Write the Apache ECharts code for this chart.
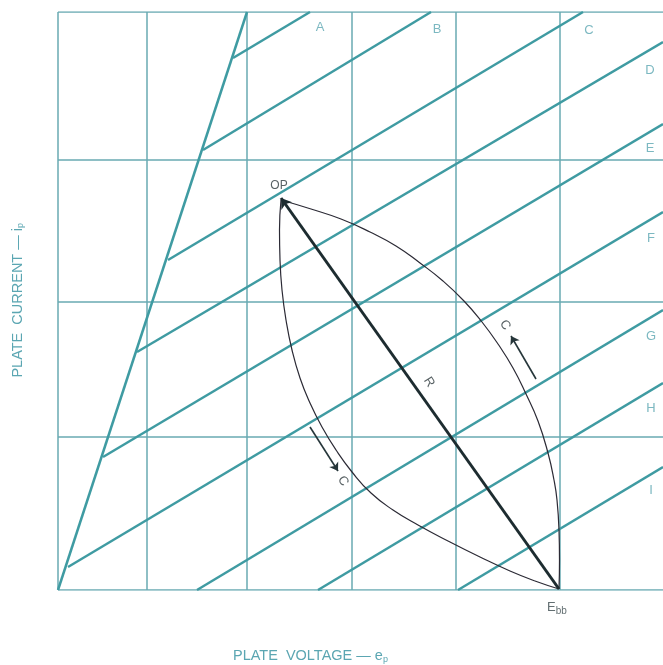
<!DOCTYPE html>
<html>
<head>
<meta charset="utf-8">
<script src="https://cdn.jsdelivr.net/npm/echarts@6/dist/echarts.min.js"></script>
<style>html,body{margin:0;padding:0;background:#fff;}#c{width:663px;height:665px;}</style>
</head>
<body>
<div id="c"></div>
<script>
// ---- data (arbitrary plate-voltage / plate-current units) ----
const xMax = 605;
const yMax = 578;
const vGrid = [0, 89, 189, 294, 398, 502];
const hGrid = [0, 153, 288, 430, 578];
const kneeLine = [[0, 0], [189, 578]];
const curveNames = ['A', 'B', 'C', 'D', 'E', 'F', 'G', 'H', 'I'];
const curveStart = [[175, 532], [145, 440], [110, 330], [79, 238], [45, 133], [10, 23], [139, 0], [260, 0], [400, 0]];
const curveEnd = [[252, 578], [373, 578], [525, 578], [605, 548], [605, 466], [605, 378], [605, 280], [605, 207], [605, 123]];
const curveLabelAt = [[262, 563], [379, 561], [531, 560], [592, 520], [592, 442], [593, 352], [593, 254], [593, 182], [593, 100]];
const OP = [223, 392];
const Ebb = [501, 1];
const leftArc = [[223, 390], [221.5, 360], [222, 330], [224, 300], [228, 270], [234, 240], [242, 212], [252, 187], [264, 163], [278, 140], [294, 118], [313, 97], [335, 80], [360, 65], [392, 48], [422, 33], [452, 19], [477, 9], [501, 1]];
const rightArc = [[223, 390], [253, 381], [283, 371], [312, 358], [338, 344], [362, 327], [385, 309], [406, 289], [424, 268], [440, 246], [455, 222], [468, 196], [480, 169], [490, 137], [496, 110], [499, 90], [501, 60], [501.5, 30], [501, 1]];
const arrowLeft = [[252, 163], [280, 119]];
const arrowRight = [[478, 211], [453, 254]];
const cLabelAt = [[285, 109], [447, 265]];
const rLabelAt = [371, 208];

// ---- styles ----
const teal = '#3f9ba2';
const gridTeal = '#69aab2';
const labelTeal = '#5ba6b2';
const dark = '#1d2c30';
const font = '"Liberation Sans", Arial, sans-serif';

const gridLines = [];
vGrid.forEach(x => gridLines.push({ coords: [[x, 0], [x, yMax]] }));
hGrid.forEach(y => gridLines.push({ coords: [[0, y], [xMax, y]] }));

const charLines = [{ coords: kneeLine }];
curveStart.forEach((s, i) => charLines.push({ coords: [s, curveEnd[i]] }));

const chart = echarts.init(document.getElementById('c'), null, { renderer: 'canvas' });
chart.setOption({
  animation: false,
  backgroundColor: '#ffffff',
  grid: { left: 58, top: 12, width: 605, height: 578, containLabel: false },
  xAxis: { type: 'value', min: 0, max: xMax, show: false },
  yAxis: { type: 'value', min: 0, max: yMax, show: false },
  graphic: [
    {
      type: 'text', left: 10, top: 223,
      rotation: Math.PI / 2,
      style: {
        text: '{a|PLATE  CURRENT — i}{s|p}',
        rich: {
          a: { fill: labelTeal, fontSize: 14.5, fontFamily: font, fontWeight: 'normal' },
          s: { fill: labelTeal, fontSize: 9, fontFamily: font, padding: [7, 0, 0, 0] }
        }
      }
    }
  ],
  title: {
    left: 233, top: 648,
    padding: 0,
    text: '{a|PLATE  VOLTAGE — e}{s|p}',
    textStyle: {
      fontWeight: 'normal',
      rich: {
        a: { color: labelTeal, fontSize: 14.5, fontFamily: font, fontWeight: 'normal' },
        s: { color: labelTeal, fontSize: 9, fontFamily: font, fontWeight: 'normal', padding: [7, 0, 0, 0] }
      }
    }
  },
  series: [
    {
      type: 'lines', coordinateSystem: 'cartesian2d', silent: true,
      lineStyle: { color: gridTeal, width: 1.5, opacity: 1 },
      data: gridLines, z: 1
    },
    {
      type: 'lines', coordinateSystem: 'cartesian2d', silent: true,
      lineStyle: { color: teal, width: 2.5, opacity: 1 },
      data: charLines, z: 2
    },
    {
      type: 'line', smooth: true, symbol: 'none', silent: true, clip: false,
      lineStyle: { color: '#2b2a35', width: 1.2 },
      data: leftArc, z: 3
    },
    {
      type: 'line', smooth: true, symbol: 'none', silent: true, clip: false,
      lineStyle: { color: '#2b2a35', width: 1.2 },
      data: rightArc, z: 3
    },
    {
      type: 'lines', coordinateSystem: 'cartesian2d', silent: true,
      symbol: ['arrow', 'none'], symbolSize: 10,
      lineStyle: { color: dark, width: 3, opacity: 1 },
      data: [{ coords: [OP, Ebb] }], z: 4
    },
    {
      type: 'lines', coordinateSystem: 'cartesian2d', silent: true,
      symbol: ['none', 'arrow'], symbolSize: 8,
      lineStyle: { color: '#26363a', width: 1.6, opacity: 1 },
      data: [{ coords: arrowLeft }, { coords: arrowRight }], z: 4
    },
    {
      type: 'scatter', symbolSize: 0, silent: true, clip: false,
      label: { show: true, position: 'inside', formatter: p => p.name, color: labelTeal, fontSize: 13, fontFamily: font },
      data: curveNames.map((n, i) => ({ name: n, value: curveLabelAt[i] })), z: 5
    },
    {
      type: 'scatter', symbolSize: 0, silent: true, clip: false,
      label: { show: true, position: 'inside', formatter: p => p.name, color: '#2e3a3d', fontSize: 13, fontFamily: font, rotate: -58 },
      data: [
        { name: 'C', value: cLabelAt[0] },
        { name: 'C', value: cLabelAt[1] },
        { name: 'R', value: rLabelAt }
      ], z: 5
    },
    {
      type: 'scatter', symbolSize: 0, silent: true, clip: false,
      data: [
        { name: 'OP', value: OP, label: { show: true, position: 'top', distance: 6, offset: [-2, 0], formatter: 'OP', color: '#2e3a3d', fontSize: 12, fontFamily: font } },
        { name: 'Ebb', value: Ebb, label: { show: true, position: 'bottom', distance: 9, offset: [-2, 0], formatter: '{a|E}{s|bb}', rich: { a: { color: '#3b4a4e', fontSize: 13, fontFamily: font }, s: { color: '#3b4a4e', fontSize: 10, fontFamily: font, padding: [8, 0, 0, 0] } } } }
      ], z: 5
    }
  ]
});
</script>
</body>
</html>
